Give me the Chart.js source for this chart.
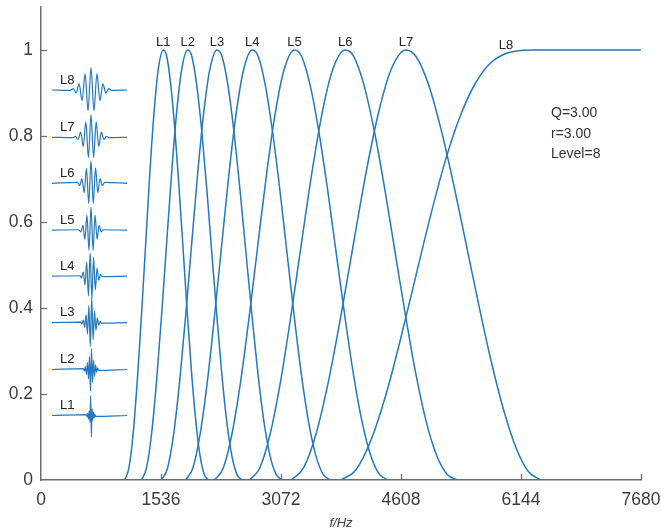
<!DOCTYPE html>
<html>
<head>
<meta charset="utf-8">
<script src="https://cdn.jsdelivr.net/npm/chart.js@4.4.1/dist/chart.umd.min.js"></script>
<style>
  html, body { margin: 0; padding: 0; background: #ffffff; }
  #wrap { position: relative; width: 661px; height: 531px; }
</style>
</head>
<body>
<div id="wrap"><canvas id="c" width="661" height="531"></canvas></div>
<script>
// ---- axis ticks ----
const freqTicks = [0, 1536, 3072, 4608, 6144, 7680];
const gainTicks = [0, 0.2, 0.4, 0.6, 0.8, 1];

// ---- sub-band names (L1 = lowest band) ----
const levels = ['L1', 'L2', 'L3', 'L4', 'L5', 'L6', 'L7', 'L8'];

// ---- normalised frequency responses ----
// gain samples across one band-pass lobe (L1..L6 share this profile)
const bandGain   = [0, 0.028, 0.107, 0.230, 0.383, 0.550, 0.714, 0.855, 0.954, 1.000, 0.986,
                    0.919, 0.811, 0.677, 0.529, 0.381, 0.245, 0.134, 0.056, 0.013, 0];
const bandGainL7 = [0, 0.028, 0.107, 0.230, 0.383, 0.550, 0.714, 0.854, 0.954, 1.000, 0.985,
                    0.920, 0.816, 0.689, 0.550, 0.410, 0.278, 0.164, 0.075, 0.019, 0];

const freqL1 = [1072, 1125, 1179, 1232, 1286, 1340, 1393, 1447, 1500, 1565, 1608,
                1661, 1715, 1768, 1822, 1875, 1929, 1983, 2036, 2090, 2143];
const freqL2 = [1286, 1350, 1415, 1479, 1543, 1608, 1672, 1736, 1800, 1878, 1929,
                1993, 2058, 2122, 2186, 2251, 2315, 2379, 2443, 2508, 2572];
const freqL3 = [1543, 1620, 1698, 1775, 1852, 1929, 2006, 2083, 2160, 2253, 2315,
                2392, 2469, 2546, 2623, 2701, 2778, 2855, 2932, 3009, 3086];
const freqL4 = [1852, 1944, 2037, 2130, 2222, 2315, 2407, 2500, 2593, 2704, 2778,
                2870, 2963, 3056, 3148, 3241, 3333, 3426, 3519, 3611, 3704];
const freqL5 = [2222, 2333, 2444, 2556, 2667, 2778, 2889, 3000, 3111, 3244, 3333,
                3444, 3556, 3667, 3778, 3889, 4000, 4111, 4222, 4333, 4444];
const freqL6 = [2667, 2800, 2933, 3067, 3200, 3333, 3467, 3600, 3733, 3893, 4000,
                4133, 4267, 4400, 4533, 4667, 4800, 4933, 5067, 5200, 5333];
const freqL7 = [3200, 3360, 3520, 3680, 3840, 4000, 4160, 4320, 4480, 4672, 4800,
                4960, 5120, 5280, 5440, 5600, 5760, 5920, 6080, 6240, 6400];
// high-pass band
const freqL8 = [3840, 4032, 4224, 4416, 4608, 4800, 4992, 5184, 5376, 5568, 5760,
                5952, 6144, 6336, 6400, 7680];
const gainL8 = [0, 0.024, 0.093, 0.199, 0.332, 0.476, 0.619, 0.748, 0.851, 0.925, 0.971,
                0.992, 0.999, 1.000, 1, 1];

// ---- time-domain wavelets of each level (successive extrema) ----
const waveL1 = [0.002, -0.003, 0.005, -0.008, 0.011, -0.016, 0.046, -0.050, 0.016, -0.011, 0.008, -0.005, 0.003, -0.002];
const waveL2 = [0.002, -0.004, 0.007, -0.011, 0.016, -0.022, 0.030, -0.050, 0.048, -0.030, 0.022, -0.016, 0.011, -0.007, 0.004, -0.002];
const waveL3 = [0.001, -0.003, 0.006, -0.011, 0.018, -0.027, 0.040, -0.056, 0.058, -0.040, 0.027, -0.018, 0.011, -0.006, 0.003, -0.001];
const waveL4 = [0.001, -0.004, 0.010, -0.020, 0.033, -0.046, 0.054, -0.052, 0.044, -0.032, 0.019, -0.010, 0.004, -0.001];
const waveL5 = [0.001, -0.004, 0.011, -0.021, 0.035, -0.047, 0.053, -0.047, 0.035, -0.021, 0.011, -0.004, 0.001];
const waveL6 = [0.002, -0.005, 0.011, -0.022, 0.035, -0.047, 0.052, -0.047, 0.036, -0.022, 0.011, -0.005, 0.002];
const waveL7 = [-0.001, 0.002, -0.005, 0.012, -0.022, 0.036, -0.047, 0.052, -0.047, 0.036, -0.022, 0.012, -0.005, 0.002, -0.001];
const waveL8 = [-0.001, 0.003, -0.007, 0.014, -0.025, 0.038, -0.048, 0.052, -0.048, 0.038, -0.025, 0.014, -0.007, 0.003, -0.001];

// ---- transform parameters ----
const paramText = ['Q=3.00', 'r=3.00', 'Level=8'];

// ---- layout of the wavelet inset (axis units) ----
const inset = {
  from: 141, to: 1101, center: 640,
  base: [0.150, 0.257, 0.366, 0.474, 0.581, 0.690, 0.797, 0.907],
  step: [9, 13, 18, 22, 26, 29, 33, 38]
};

const LINE = '#2379c0';
const AXIS = '#6d6d6d';
const TEXT = '#3c3c3c';
const FONT = '"Liberation Sans", Arial, Helvetica, sans-serif';

const bandFreqs = [freqL1, freqL2, freqL3, freqL4, freqL5, freqL6, freqL7, freqL8];
const bandGains = [bandGain, bandGain, bandGain, bandGain, bandGain, bandGain, bandGainL7, gainL8];
const waves = [waveL1, waveL2, waveL3, waveL4, waveL5, waveL6, waveL7, waveL8];

function toPoints(fs, gs) { return fs.map((f, i) => ({ x: f, y: gs[i] })); }

function wavePoints(vals, base, step) {
  const n = vals.length;
  const pts = [{ x: inset.from, y: base }];
  vals.forEach((v, i) => pts.push({ x: inset.center + (i - (n - 1) / 2) * step, y: base + v }));
  pts.push({ x: inset.to, y: base });
  return pts;
}

const datasets = [];
levels.forEach((name, k) => {
  datasets.push({
    label: name,
    data: toPoints(bandFreqs[k], bandGains[k]),
    borderColor: LINE, borderWidth: 1.5, pointRadius: 0,
    cubicInterpolationMode: 'monotone', fill: false
  });
});
levels.forEach((name, k) => {
  datasets.push({
    label: name + ' wavelet',
    data: wavePoints(waves[k], inset.base[k], inset.step[k]),
    borderColor: LINE, borderWidth: 1.2, pointRadius: 0,
    cubicInterpolationMode: 'monotone', fill: false
  });
});

// inward tick marks, band labels, inset labels and parameter text
const decor = {
  id: 'decor',
  afterDatasetsDraw(chart) {
    const { ctx, chartArea: a, scales: { x, y } } = chart;
    ctx.save();
    ctx.strokeStyle = AXIS;
    ctx.lineWidth = 1.3;
    freqTicks.forEach(v => {
      if (v === 0) return;
      const px = Math.round(x.getPixelForValue(v)) + 0.5;
      ctx.beginPath(); ctx.moveTo(px, a.bottom); ctx.lineTo(px, a.bottom - 6); ctx.stroke();
    });
    gainTicks.forEach(v => {
      if (v === 0) return;
      const py = Math.round(y.getPixelForValue(v)) + 0.5;
      ctx.beginPath(); ctx.moveTo(a.left, py); ctx.lineTo(a.left + 6, py); ctx.stroke();
    });

    // band labels above each lobe
    ctx.font = '13px ' + FONT;
    ctx.fillStyle = '#222222';
    ctx.textAlign = 'center';
    ctx.textBaseline = 'middle';
    levels.forEach((name, k) => {
      const gs = bandGains[k], fs = bandFreqs[k];
      let idx;
      if (k === levels.length - 1) {
        idx = gs.findIndex(g => g >= 0.99);
        ctx.fillText(name, x.getPixelForValue(fs[idx]), y.getPixelForValue(1) - 5);
      } else {
        idx = gs.indexOf(Math.max(...gs));
        ctx.fillText(name, x.getPixelForValue(fs[idx]), y.getPixelForValue(gs[idx]) - 8);
      }
    });

    // wavelet labels
    ctx.textAlign = 'left';
    levels.forEach((name, k) => {
      ctx.fillText(name, x.getPixelForValue(inset.from) + 8, y.getPixelForValue(inset.base[k]) - 10);
    });

    // parameters
    ctx.font = '14px ' + FONT;
    ctx.fillStyle = '#333333';
    const px0 = x.getPixelForValue(6528);
    const py0 = y.getPixelForValue(0.853);
    paramText.forEach((t, i) => ctx.fillText(t, px0, py0 + i * 20.5));
    ctx.restore();
  }
};

new Chart(document.getElementById('c'), {
  type: 'line',
  data: { datasets },
  options: {
    responsive: false,
    animation: false,
    events: [],
    layout: { padding: { top: 7, right: 20, bottom: 0, left: 0 } },
    plugins: { legend: { display: false }, tooltip: { enabled: false } },
    scales: {
      x: {
        type: 'linear', min: 0, max: 7680,
        afterBuildTicks: s => { s.ticks = freqTicks.map(v => ({ value: v })); },
        afterFit: s => { s.height = 51; s.paddingLeft = 0; s.paddingRight = 0; },
        grid: { display: false, drawTicks: false },
        border: { display: true, color: AXIS, width: 1.5 },
        ticks: {
          color: TEXT, padding: 10, maxRotation: 0, autoSkip: false,
          font: { family: FONT, size: 17.5 },
          callback: v => String(v)
        },
        title: {
          display: true, text: 'f/Hz', color: TEXT,
          font: { family: FONT, size: 13, style: 'italic' },
          padding: { top: 0, bottom: 0 }
        }
      },
      y: {
        type: 'linear', min: 0, max: 1.1,
        afterBuildTicks: s => { s.ticks = gainTicks.map(v => ({ value: v })); },
        afterFit: s => { s.width = 41; s.paddingTop = 0; s.paddingBottom = 0; },
        grid: { display: false, drawTicks: false },
        border: { display: true, color: AXIS, width: 1.5 },
        ticks: {
          color: TEXT, padding: 8,
          font: { family: FONT, size: 17.5 },
          callback: v => String(v)
        }
      }
    }
  },
  plugins: [decor]
});
</script>
</body>
</html>
